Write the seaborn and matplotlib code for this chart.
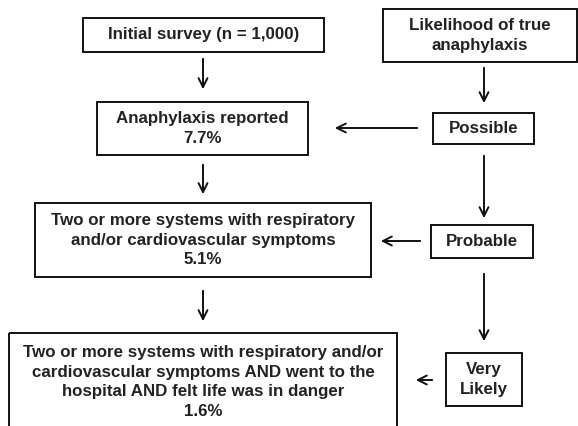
import matplotlib
matplotlib.use("Agg")
import matplotlib.pyplot as plt
import seaborn as sns
from matplotlib.patches import Rectangle

sns.set_theme(style="white")
plt.rcParams['font.family'] = ['Liberation Sans', 'DejaVu Sans']

# flow content
survey_n = "1,000"
left_labels = [
    "Initial survey (n = {})".format(survey_n),
    "Anaphylaxis reported",
    "Two or more systems with respiratory\nand/or cardiovascular symptoms",
    "Two or more systems with respiratory and/or\ncardiovascular symptoms AND went to the\nhospital AND felt life was in danger",
]
left_pct = [None, 7.7, 5.1, 1.6]
right_labels = ["Likelihood of true\nanaphylaxis", "Possible", "Probable", "Very\nLikely"]

# layout in pixels (x0, y0, x1, y1), y measured from top
left_boxes = [(83, 18, 324, 52), (97, 102, 308, 155), (35, 203, 371, 277), (9, 333, 397, 440)]
right_boxes = [(383, 9, 577, 62), (433, 113, 534, 144), (431, 225, 533, 258), (446, 353, 522, 406)]
down_left = [(56, 92), (162, 197), (288, 324)]
down_right = [(65, 106), (153, 221), (271, 344)]
side_arrows = [(420, 332, 128), (423, 378, 241), (435, 413, 380)]

fig = plt.figure(figsize=(5.78, 4.26), dpi=100)
ax = fig.add_axes([0, 0, 1, 1])
ax.set_xlim(0, 578)
ax.set_ylim(426, 0)
ax.axis('off')

txt_kw = dict(ha='center', va='center', fontsize=12.2, fontweight='bold',
              color='#222222', linespacing=1.38)


def draw_box(b, text, ty=None):
    x0, y0, x1, y1 = b
    ax.add_patch(Rectangle((x0, y0), x1 - x0, y1 - y0, fill=False,
                           edgecolor='#111111', linewidth=1.4))
    if ty is None:
        ty = (y0 + y1) / 2
    ax.text((x0 + x1) / 2, ty, text, **txt_kw)


for b, lab, p in zip(left_boxes, left_labels, left_pct):
    t = lab if p is None else "{}\n{}%".format(lab, p)
    # last box runs off the bottom of the page
    draw_box(b, t, 382 if b[3] > 426 else None)

for b, lab in zip(right_boxes, right_labels):
    draw_box(b, lab)

arrow_kw = dict(arrowstyle='->', color='#111111', lw=1.4, mutation_scale=16)
for y0, y1 in down_left:
    ax.annotate('', xy=(203, y1), xytext=(203, y0), arrowprops=arrow_kw)
for y0, y1 in down_right:
    ax.annotate('', xy=(484, y1), xytext=(484, y0), arrowprops=arrow_kw)
for x0, x1, y in side_arrows:
    ax.annotate('', xy=(x1, y), xytext=(x0, y), arrowprops=arrow_kw)

fig.savefig('out.png', dpi=100, facecolor='white')
